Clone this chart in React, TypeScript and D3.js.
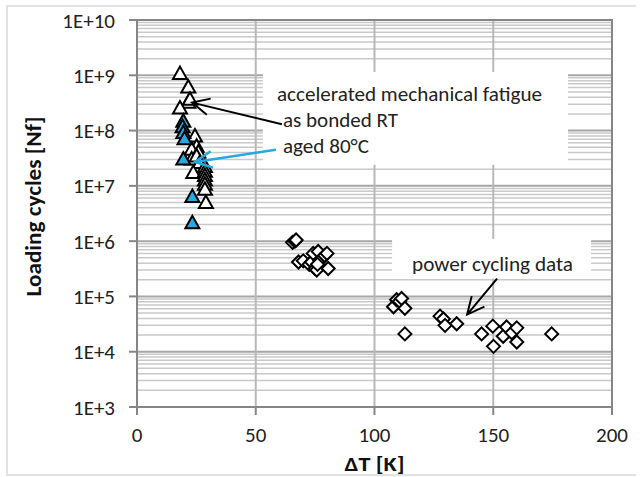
import React from 'react';
import * as d3 from 'd3';

// accelerated mechanical fatigue, as bonded RT (open triangles)
const bondedDT = [18.1, 21.6, 21.6, 22.3, 18.1, 24.4, 25.1, 23, 25.8, 23, 25.1, 26.5, 23.7, 28.6, 28.6, 28.6, 28.6, 28.6, 28.6, 29];
const bondedNf = [1.05e9, 6e8, 3.2e8, 3.6e8, 2.5e8, 7.8e7, 5.1e7, 4.5e7, 4e7, 3e7, 3.4e7, 2.6e7, 1.7e7, 2.2e7, 1.8e7, 1.5e7, 1.25e7, 1.05e7, 8.5e6, 4.9e6];

// aged 80°C (blue triangles)
const agedDT = [19.5, 19.2, 19.5, 20, 19.5, 23.3, 23.3];
const agedNf = [1.45e8, 1.15e8, 9e7, 7e7, 3e7, 6.3e6, 2.1e6];

// power cycling data (diamonds)
const powerDT = [65.5, 66.5, 67, 68, 70, 72.5, 73.5, 74.2, 75, 75.7, 76.3, 77, 79, 80, 80.5, 76,
  108, 109.3, 110.5, 111.4, 112.8, 112.8, 127.6, 129, 129.7, 134.6,
  145.1, 149.8, 150.1, 154.2, 155.6, 157.8, 159.9, 159.9, 174.6];
const powerNf = [9.5e5, 1e6, 1.05e6, 4.2e5, 4.4e5, 3.8e5, 4.2e5, 6e5, 3.2e5, 3e5, 6.5e5, 4.5e5, 5.5e5, 6e5, 3.2e5, 3.8e5,
  6.5e4, 8.7e4, 8.2e4, 9.2e4, 6.1e4, 2.1e4, 4.4e4, 3.9e4, 3e4, 3.2e4,
  2.1e4, 2.9e4, 1.25e4, 1.9e4, 2.8e4, 2.2e4, 2.7e4, 1.5e4, 2.1e4];

const xTicks = [0, 50, 100, 150, 200];
const yTicks = [1e3, 1e4, 1e5, 1e6, 1e7, 1e8, 1e9, 1e10];
const yTickLabels = ['1E+3', '1E+4', '1E+5', '1E+6', '1E+7', '1E+8', '1E+9', '1E+10'];

const W = 644;
const H = 477;
const FONT = "Carlito, Lato, 'Open Sans', sans-serif";

const x = d3.scaleLinear().domain([0, 200]).range([137, 612]);
const y = d3.scaleLog().domain([1e3, 1e10]).range([407, 20]);

// minor gridlines 2..9 of each decade
const minorTicks: number[] = [];
for (let e = 3; e < 10; e += 1) {
  for (let m = 2; m <= 9; m += 1) minorTicks.push(m * 10 ** e);
}

const tri = (cx: number, cy: number) => `M${cx},${cy - 7.5} L${cx + 7},${cy + 5} L${cx - 7},${cy + 5} Z`;
const dia = (cx: number, cy: number) => `M${cx},${cy - 6.5} L${cx + 6.5},${cy} L${cx},${cy + 6.5} L${cx - 6.5},${cy} Z`;

// open arrow head (two strokes) at the tip
function arrow(x1: number, y1: number, x2: number, y2: number) {
  const a = Math.atan2(y2 - y1, x2 - x1);
  const len = 19;
  const sp = 0.45;
  const h1 = [x2 - len * Math.cos(a - sp), y2 - len * Math.sin(a - sp)];
  const h2 = [x2 - len * Math.cos(a + sp), y2 - len * Math.sin(a + sp)];
  return `M${x1},${y1} L${x2},${y2} M${h1[0]},${h1[1]} L${x2},${y2} L${h2[0]},${h2[1]}`;
}

export default function App() {
  const [x0, x1] = x.range();
  const [y0, y1] = y.range();
  const label = { fontFamily: FONT, fontSize: 20, fill: '#222' };
  return (
    <svg width={W} height={H} style={{ display: 'block', position: 'absolute', left: 0, top: 0 }}>
      <rect x={0} y={0} width={W} height={H} fill="#fff" />
      <path d="M636,6 L7,6 L7,475 L636,475" fill="none" stroke="#d9d9d9" strokeWidth={1.5} />

      {/* gridlines */}
      {minorTicks.map((t) => (
        <line key={`m${t}`} x1={x0} x2={x1} y1={y(t)} y2={y(t)} stroke="#c9c9c9" strokeWidth={1.5} />
      ))}
      {yTicks.map((t) => (
        <line key={`g${t}`} x1={x0} x2={x1} y1={y(t)} y2={y(t)} stroke="#a6a6a6" strokeWidth={2} />
      ))}
      {xTicks.slice(1, -1).map((t) => (
        <line key={`v${t}`} x1={x(t)} x2={x(t)} y1={y1} y2={y0} stroke="#b8b8b8" strokeWidth={2} />
      ))}

      {/* plot frame and ticks */}
      <rect x={x0} y={y1} width={x1 - x0} height={y0 - y1} fill="none" stroke="#868686" strokeWidth={2} />
      {yTicks.map((t) => (
        <line key={`yt${t}`} x1={x0 - 8} x2={x0} y1={y(t)} y2={y(t)} stroke="#868686" strokeWidth={2} />
      ))}
      {xTicks.map((t) => (
        <line key={`xt${t}`} x1={x(t)} x2={x(t)} y1={y0} y2={y0 + 8} stroke="#868686" strokeWidth={2} />
      ))}

      {/* tick labels */}
      {yTicks.map((t, i) => (
        <text key={`yl${t}`} x={115} y={y(t)} dy="0.36em" textAnchor="end" fontFamily={FONT} fontSize={21} fill="#222">
          {yTickLabels[i]}
        </text>
      ))}
      {xTicks.map((t) => (
        <text key={`xl${t}`} x={x(t)} y={442} textAnchor="middle" fontFamily={FONT} fontSize={21} fill="#222">
          {t}
        </text>
      ))}
      <text x={(x0 + x1) / 2} y={471} textAnchor="middle" fontFamily={FONT} fontSize={21} fontWeight="bold" fill="#111"
        textLength={60} lengthAdjust="spacingAndGlyphs">
        ΔT [K]
      </text>
      <text transform={`translate(41,${(y0 + y1) / 2 - 7}) rotate(-90)`} textAnchor="middle" fontFamily={FONT} fontSize={22}
        fontWeight="bold" fill="#111" textLength={180} lengthAdjust="spacingAndGlyphs">
        Loading cycles [Nf]
      </text>

      {/* data */}
      {powerDT.map((d, i) => (
        <path key={`p${i}`} d={dia(x(d), y(powerNf[i]))} fill="#fff" stroke="#000" strokeWidth={2} />
      ))}
      {bondedDT.map((d, i) => (
        <path key={`b${i}`} d={tri(x(d), y(bondedNf[i]))} fill="#fff" stroke="#000" strokeWidth={2} />
      ))}
      {agedDT.map((d, i) => (
        <path key={`a${i}`} d={tri(x(d), y(agedNf[i]))} fill="#29a8e0" stroke="#000" strokeWidth={2} />
      ))}

      {/* annotations */}
      <rect x={x(53)} y={y(1.15e9)} width={x(181.5) - x(53)} height={y(2.4e7) - y(1.15e9)} fill="#fff" />
      <text x={277} y={101} {...label} textLength={265} lengthAdjust="spacingAndGlyphs">accelerated mechanical fatigue</text>
      <text x={283} y={127} {...label} textLength={115} lengthAdjust="spacingAndGlyphs">as bonded RT</text>
      <text x={283} y={153} {...label} textLength={86} lengthAdjust="spacingAndGlyphs">aged 80°C</text>
      <rect x={x(107.4)} y={y(1.1e6)} width={x(191.2) - x(107.4)} height={y(2.1e5) - y(1.1e6)} fill="#fff" />
      <text x={412} y={271} {...label} textLength={161} lengthAdjust="spacingAndGlyphs">power cycling data</text>

      <path d={arrow(x(61), y(1.3e8), x(23.2), y(3.2e8))} fill="none" stroke="#000" strokeWidth={2} />
      <path d={arrow(x(58.5), y(4.5e7), x(24.4), y(2.7e7))} fill="none" stroke="#29a8e0" strokeWidth={2.5} />
      <path d={arrow(x(151.6), y(2.1e5), x(139), y(4.7e4))} fill="none" stroke="#000" strokeWidth={2} />
    </svg>
  );
}
